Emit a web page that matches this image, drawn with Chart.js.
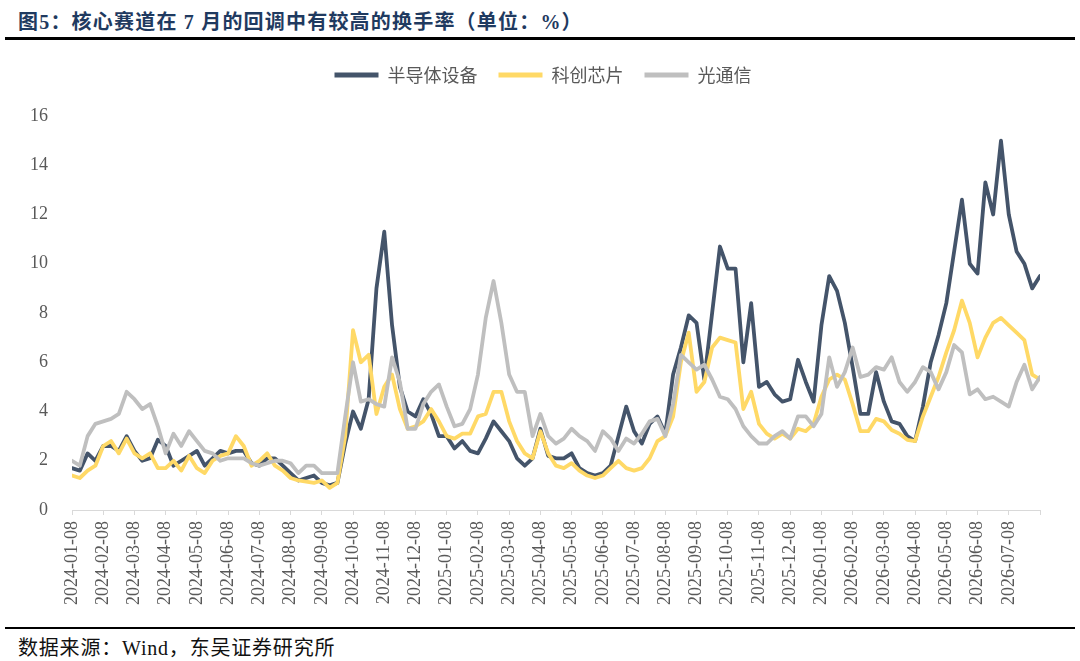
<!DOCTYPE html>
<html>
<head>
<meta charset="utf-8">
<script src="https://cdn.jsdelivr.net/npm/chart.js@4.4.1/dist/chart.umd.min.js"></script>
<style>
  html, body { margin: 0; padding: 0; background: #fff; }
  body { width: 1080px; height: 661px; position: relative; overflow: hidden; }
  #title {
    position: absolute; left: 18px; top: 6px;
    font: bold 20px "Liberation Serif", "Noto Sans CJK SC", serif;
    letter-spacing: 1.2px;
    color: #1F3A60; white-space: nowrap;
  }
  .rule { position: absolute; left: 5px; width: 1070px; background: #000; }
  #ruleTop { top: 37px; height: 3px; }
  #ruleBottom { top: 627px; height: 2px; }
  #source {
    position: absolute; left: 18px; top: 632px;
    font: 20px "Liberation Serif", "Noto Sans CJK SC", serif;
    letter-spacing: 0.8px;
    color: #111; white-space: nowrap;
  }
  #box { position: absolute; left: 0; top: 45px; width: 1080px; height: 580px; }
</style>
</head>
<body>
<div id="title">图5：核心赛道在 7 月的回调中有较高的换手率（单位：%）</div>
<div class="rule" id="ruleTop"></div>
<div id="box"><canvas id="turnoverChart"></canvas></div>
<div class="rule" id="ruleBottom"></div>
<div id="source">数据来源：Wind，东吴证券研究所</div>

<script>
// 月度刻度（每月约4个数据点）
const monthLabels = [
  '2024-01-08', '2024-02-08', '2024-03-08', '2024-04-08', '2024-05-08', '2024-06-08',
  '2024-07-08', '2024-08-08', '2024-09-08', '2024-10-08', '2024-11-08', '2024-12-08',
  '2025-01-08', '2025-02-08', '2025-03-08', '2025-04-08', '2025-05-08', '2025-06-08',
  '2025-07-08', '2025-08-08', '2025-09-08', '2025-10-08', '2025-11-08', '2025-12-08',
  '2026-01-08', '2026-02-08', '2026-03-08', '2026-04-08', '2026-05-08', '2026-06-08',
  '2026-07-08'
];
const pointsPerMonth = 4;

const seriesNames = ['半导体设备', '科创芯片', '光通信'];

// 半导体设备
const semiEquip = [
  1.7, 1.6, 2.3, 2.0, 2.6, 2.6, 2.4, 3.0, 2.4, 2.0,
  2.1, 2.85, 2.6, 1.8, 2.0, 2.2, 2.4, 1.8, 2.1, 2.4,
  2.3, 2.4, 2.4, 1.9, 1.8, 2.1, 2.1, 1.8, 1.5, 1.2,
  1.3, 1.4, 1.1, 1.0, 1.1, 2.7, 4.0, 3.3, 4.5, 9.0,
  11.3, 7.5, 5.0, 4.0, 3.8, 4.5, 3.9, 3.0, 3.0, 2.5,
  2.8, 2.4, 2.3, 2.9, 3.6, 3.2, 2.8, 2.1, 1.8, 2.1,
  3.3, 2.2, 2.1, 2.1, 2.3, 1.7, 1.5, 1.4, 1.5, 1.8,
  3.0, 4.2, 3.2, 2.7, 3.5, 3.8, 3.1, 5.5, 6.6, 7.9,
  7.6, 5.3, 8.0, 10.7, 9.8, 9.8, 6.0, 8.4, 5.0, 5.2,
  4.7, 4.4, 4.5, 6.1, 5.2, 4.4, 7.5, 9.5, 8.9, 7.6,
  5.8, 3.9, 3.9, 5.6, 4.4, 3.6, 3.5, 3.0, 2.8, 4.2,
  6.0, 7.1, 8.4, 10.5, 12.6, 10.0, 9.6, 13.3, 12.0, 15.0,
  12.0, 10.5, 10.0, 9.0, 9.5
];

// 科创芯片
const kcChip = [
  1.4, 1.3, 1.6, 1.8, 2.6, 2.8, 2.3, 2.9, 2.3, 2.1,
  2.3, 1.7, 1.7, 2.0, 1.6, 2.2, 1.7, 1.5, 2.0, 2.2,
  2.3, 3.0, 2.6, 1.8, 2.0, 2.3, 1.8, 1.6, 1.3, 1.2,
  1.15, 1.1, 1.2, 0.9, 1.1, 3.0, 7.3, 6.0, 6.3, 3.9,
  5.0, 5.5, 4.1, 3.3, 3.4, 3.6, 4.1, 3.6, 3.0, 2.9,
  3.1, 3.1, 3.8, 3.9, 4.8, 4.8, 3.6, 2.8, 2.3, 2.1,
  3.2, 2.3, 1.8, 1.7, 1.9, 1.6, 1.4, 1.3, 1.4, 1.7,
  2.0, 1.7, 1.6, 1.7, 2.1, 2.8, 3.0, 3.8, 6.0, 7.2,
  4.8, 5.2, 6.6, 7.0, 6.9, 6.8, 4.1, 4.8, 3.5, 3.1,
  2.9, 3.1, 2.9, 3.3, 3.2, 3.5, 4.6, 5.3, 5.5, 5.3,
  4.3, 3.2, 3.2, 3.7, 3.6, 3.25, 3.1, 2.85, 2.8, 3.8,
  4.6, 5.4, 6.4, 7.3, 8.5, 7.6, 6.2, 7.0, 7.6, 7.8,
  7.5, 7.2, 6.9, 5.5, 5.3
];

// 光通信
const opticalComm = [
  2.0, 1.8, 3.0, 3.5, 3.6, 3.7, 3.9, 4.8, 4.5, 4.1,
  4.3, 3.4, 2.3, 3.1, 2.6, 3.2, 2.8, 2.4, 2.3, 2.0,
  2.1, 2.1, 2.1, 1.9, 1.8, 1.9, 2.0, 2.0, 1.9, 1.5,
  1.8, 1.8, 1.5, 1.5, 1.5, 3.8, 6.0, 4.4, 4.5, 4.3,
  4.2, 6.2, 5.2, 3.3, 3.3, 4.3, 4.8, 5.1, 4.2, 3.4,
  3.5, 4.1, 5.5, 7.8, 9.3, 7.6, 5.5, 4.8, 4.8, 3.0,
  3.9, 3.0, 2.7, 2.9, 3.3, 3.0, 2.8, 2.4, 3.2, 2.9,
  2.4, 2.9, 2.7, 3.1, 3.6, 3.7, 3.0, 4.3, 6.3, 6.0,
  5.7, 5.9, 5.3, 4.6, 4.5, 4.1, 3.4, 3.0, 2.7, 2.7,
  3.0, 3.2, 2.9, 3.8, 3.8, 3.4, 3.9, 6.2, 5.0, 5.6,
  6.6, 5.4, 5.5, 5.8, 5.7, 6.2, 5.2, 4.8, 5.2, 5.8,
  5.6, 4.9, 5.6, 6.7, 6.4, 4.7, 4.9, 4.5, 4.6, 4.4,
  4.2, 5.2, 5.9, 4.9, 5.4
];

const seriesColors = ['#44546A', '#FFD966', '#BFBFBF'];

const serifFont = '"Liberation Serif", "Times New Roman", serif';
const cjkFont = '"Noto Sans CJK SC", sans-serif';

function toPoints(values) {
  return values.map((v, i) => ({ x: i, y: v }));
}

const allSeries = [semiEquip, kcChip, opticalComm];
const datasets = allSeries.map((values, k) => ({
  label: seriesNames[k],
  data: toPoints(values),
  borderColor: seriesColors[k],
  backgroundColor: seriesColors[k],
  borderWidth: 3.8,
  borderJoinStyle: 'round',
  borderCapStyle: 'round',
  pointRadius: 0,
  tension: 0,
  order: 3 - k
}));

const lastIndex = semiEquip.length - 1;

// 图例与绘图区之间留出空隙，并略向右移
const legendGap = {
  id: 'legendGap',
  beforeLayout(chart) {
    const lg = chart.legend;
    if (lg && !lg._gapPatched) {
      const fit = lg.fit;
      lg.fit = function () { fit.call(this); this.height += 22; };
      lg._gapPatched = true;
    }
  },
  afterLayout(chart) {
    if (chart.legend) {
      chart.legend.left += 16;
      chart.legend.right += 16;
    }
  }
};

new Chart(document.getElementById('turnoverChart').getContext('2d'), {
  type: 'line',
  data: { datasets: datasets },
  plugins: [legendGap],
  options: {
    responsive: true,
    maintainAspectRatio: false,
    animation: false,
    layout: { padding: { left: 14, right: 40, top: 0, bottom: 14 } },
    plugins: {
      tooltip: { enabled: false },
      legend: {
        position: 'top',
        align: 'center',
        labels: {
          boxWidth: 44,
          boxHeight: 5,
          padding: 21,
          color: '#595959',
          font: { family: cjkFont, size: 18 },
          sort: (a, b) => a.datasetIndex - b.datasetIndex,
          generateLabels: chart =>
            Chart.defaults.plugins.legend.labels.generateLabels(chart)
              .map(item => Object.assign(item, { lineWidth: 0 }))
        }
      }
    },
    scales: {
      x: {
        type: 'linear',
        min: 0,
        max: lastIndex,
        grid: {
          drawOnChartArea: false,
          drawTicks: true,
          tickLength: 5,
          color: '#D9D9D9'
        },
        border: { color: '#D9D9D9', width: 1 },
        ticks: {
          stepSize: pointsPerMonth,
          autoSkip: false,
          minRotation: 90,
          maxRotation: 90,
          padding: 6,
          color: '#595959',
          font: { family: serifFont, size: 18 },
          callback: value => monthLabels[value / pointsPerMonth] || ''
        }
      },
      y: {
        min: 0,
        max: 16,
        grid: { display: false },
        border: { display: false },
        ticks: {
          stepSize: 2,
          padding: 16,
          color: '#595959',
          font: { family: serifFont, size: 18 }
        }
      }
    }
  }
});
</script>
</body>
</html>
